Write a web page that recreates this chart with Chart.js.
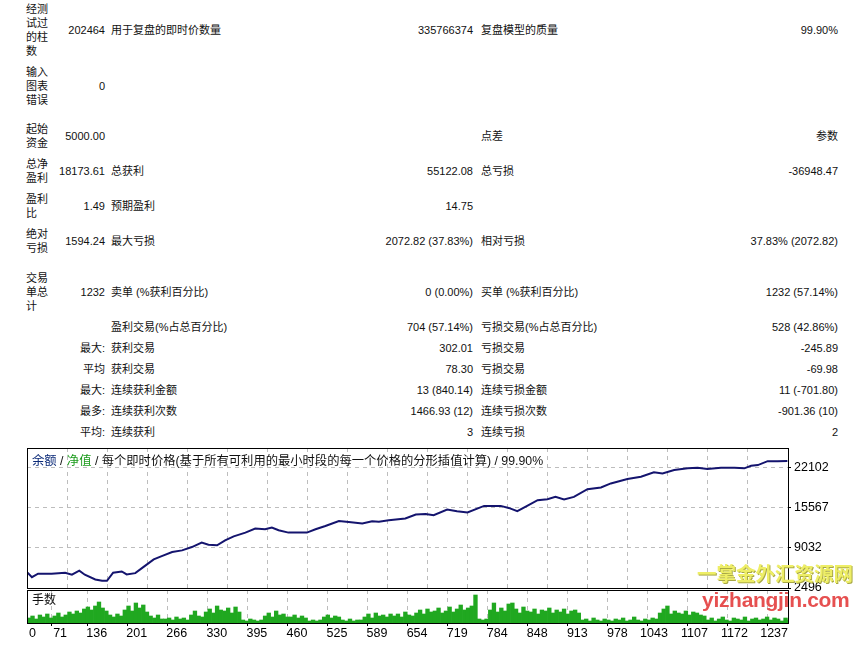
<!DOCTYPE html>
<html>
<head>
<meta charset="utf-8">
<script src="https://cdn.jsdelivr.net/npm/chart.js@4.4.1/dist/chart.umd.min.js"></script>
<style>
  body { margin: 0; background: #fff; width: 867px; height: 646px; overflow: hidden; position: relative;
         font-family: "Liberation Sans", "Noto Sans CJK SC", sans-serif; font-size: 11px; color: #111; }
  .t { position: absolute; white-space: nowrap; line-height: 14px; }
  .r { text-align: right; }
  .box { position: absolute; }
  #title { position: absolute; left: 32px; top: 451px; font-size: 12.3px; white-space: nowrap; z-index: 3; }
  .wm1 { position: absolute; left: 697px; top: 558px; font: bold 19.5px "Noto Sans CJK SC"; color: #eeee66;
         text-shadow: 1px 1px 0 #a8a845; z-index: 5; }
  .wm2 { position: absolute; left: 702px; top: 588px; font: bold 21px "Liberation Sans"; color: #e65050;
         z-index: 5; letter-spacing: -0.3px; }
</style>
</head>
<body>
<div id="report"></div>
<div class="box" style="left:0; top:430px; width:867px; height:180px;"><canvas id="chart_balance"></canvas></div>
<div class="box" style="left:0; top:580px; width:867px; height:66px;"><canvas id="chart_lots"></canvas></div>
<div id="title"><span style="color:#0b2a78">余额</span> / <span style="color:#1a9a1a">净值</span> / 每个即时价格(基于所有可利用的最小时段的每一个价格的分形插值计算) / 99.90%</div>
<div class="wm1">一掌金外汇资源网</div>
<div class="wm2">yizhangjin.com</div>
<script>
// ****************************************************************** //
// report table: [text y, wrapped label, value, label, value, label, value]
// ****************************************************************** //
const reportRows = [
    [30, "经测<br>试过<br>的柱<br>数", "202464", "用于复盘的即时价数量", "335766374", "复盘模型的质量", "99.90%"],
    [86, "输入<br>图表<br>错误", "0", "", "", "", ""],
    [136, "起始<br>资金", "5000.00", "", "", "点差", "参数"],
    [171, "总净<br>盈利", "18173.61", "总获利", "55122.08", "总亏损", "-36948.47"],
    [206, "盈利<br>比", "1.49", "预期盈利", "14.75", "", ""],
    [241, "绝对<br>亏损", "1594.24", "最大亏损", "2072.82 (37.83%)", "相对亏损", "37.83% (2072.82)"],
    [292, "交易<br>单总<br>计", "1232", "卖单 (%获利百分比)", "0 (0.00%)", "买单 (%获利百分比)", "1232 (57.14%)"],
    [327, "", "", "盈利交易(%占总百分比)", "704 (57.14%)", "亏损交易(%占总百分比)", "528 (42.86%)"],
    [348, "", "最大:", "获利交易", "302.01", "亏损交易", "-245.89"],
    [369, "", "平均", "获利交易", "78.30", "亏损交易", "-69.98"],
    [390, "", "最大:", "连续获利金额", "13 (840.14)", "连续亏损金额", "11 (-701.80)"],
    [411, "", "最多:", "连续获利次数", "1466.93 (12)", "连续亏损次数", "-901.36 (10)"],
    [432, "", "平均:", "连续获利", "3", "连续亏损", "2"],
];

let html = "";
reportRows.forEach(function (row) {
    const y = row[0];
    const nLines = row[1] ? row[1].split("<br>").length : 1;
    html += '<div class="t" style="left:26px;top:' + (y - nLines * 7) + 'px">' + row[1] + "</div>";
    html += '<div class="t r" style="right:' + (867 - 105) + 'px;top:' + (y - 7) + 'px">' + row[2] + "</div>";
    html += '<div class="t" style="left:111px;top:' + (y - 7) + 'px">' + row[3] + "</div>";
    html += '<div class="t r" style="right:' + (867 - 473) + 'px;top:' + (y - 7) + 'px">' + row[4] + "</div>";
    html += '<div class="t" style="left:481px;top:' + (y - 7) + 'px">' + row[5] + "</div>";
    html += '<div class="t r" style="right:' + (867 - 838) + 'px;top:' + (y - 7) + 'px">' + row[6] + "</div>";
});
document.getElementById("report").innerHTML = html;

// ****************************************************************** //
// chart data
// ****************************************************************** //
const tradeNo = [
    0, 1, 8, 18, 40, 62, 73, 85, 94, 111, 122, 130, 140, 154, 162, 176, 189, 206,
    219, 236, 252, 268, 284, 295, 309, 322, 336, 355, 371, 387, 398, 409, 425, 442,
    455, 469, 485, 507, 523, 545, 561, 572, 588, 615, 632, 648, 661, 683, 699, 716,
    743, 770, 783, 797, 813, 830, 846, 859, 873, 889, 911, 933, 949, 976, 998, 1019,
    1033, 1052, 1074, 1090, 1106, 1128, 1150, 1166, 1177, 1188, 1204, 1220, 1236,
];
const balance = [
    5000, 4980, 4260, 4816, 4816, 4980, 4653, 5307, 4653, 3885, 3672, 3672, 4980, 5192, 4702, 4914, 5895, 7153,
    7692, 8346, 8623, 9163, 9882, 9555, 9440, 10257, 10911, 11515, 12169, 12055, 12333, 11891, 11515, 11515,
    11515, 12055, 12594, 13411, 13247, 12986, 13362, 13300, 13525, 13803, 14457, 14555, 14342, 15274, 14996, 14784,
    15862, 15862, 15535, 14996, 15862, 16793, 16957, 17333, 16908, 17333, 18591, 18869, 19523, 20225, 20601, 21320,
    21156, 21695, 21973, 22070, 21859, 22070, 22070, 21973, 22390, 22510, 23150, 23150, 23173,
];
// lots per block of 6 trades
const lots = [
    0.5, 0.7, 0.4, 0.8, 0.6, 0.9, 0.5, 0.7, 1.0, 0.6, 0.8,
    1.1, 0.9, 1.2, 1.0,
    1.4, 1.6, 1.3, 1.7, 2.1, 1.5, 1.2,
    0.8, 0.6, 0.9, 0.7,
    1.3, 1.7, 1.2, 2.0, 1.5, 1.8, 1.1,
    0.7, 0.5, 0.8, 0.4,
    0.4, 0.5, 0.3, 0.6, 0.4, 0.5, 0.3,
    0.8, 1.2, 0.7, 0.6,
    1.1, 1.4, 1.0, 1.7, 1.3, 1.2, 1.5, 1.0, 1.6, 1.1,
    0.3, 0.2, 0.4, 0.3, 0.2, 0.3,
    0.7, 1.0, 0.6, 1.2, 0.8, 0.9, 0.6,
    0.6, 0.8, 0.5, 0.7, 0.5,
    0.2, 0.3, 0.2, 0.3,
    0.6, 0.8, 0.5, 0.7, 0.6,
    0.3, 0.2, 0.4, 0.2, 0.3, 0.3,
    0.6, 0.9, 0.5, 1.0, 0.7, 0.8, 0.6, 0.9,
    0.7, 0.9, 0.6, 1.1, 0.8, 0.7,
    1.0, 1.3, 0.9, 1.4, 1.1, 1.2, 1.5, 1.0,
    1.2, 1.6, 1.1, 1.4, 1.8, 1.3, 1.5,
    1.7, 2.8,
    0.4, 0.3, 0.4,
    1.3, 2.0, 1.1, 1.5, 1.2, 1.9, 2.0, 1.4, 1.0, 1.6, 1.2,
    1.1, 1.4, 0.9, 1.3, 1.2, 1.5, 1.0, 1.3, 1.1, 1.4, 0.9, 1.2, 1.3, 1.0,
    0.3, 0.4, 0.2, 0.5, 0.3, 0.2, 0.4, 0.3,
    0.2, 0.4, 0.3, 0.5, 0.2, 0.3, 0.6, 0.3, 0.2, 0.4, 0.3, 0.5, 0.4,
    1.0, 1.4, 1.7, 0.9, 1.2, 1.0,
    0.9, 1.2, 0.8, 1.1, 1.0, 0.8, 0.7,
    0.3, 0.5, 0.2, 0.4, 0.6, 0.3, 0.2, 0.5, 0.4, 0.3, 0.6, 0.2, 0.4, 0.5, 0.3, 0.4, 0.6, 0.3, 0.5, 0.4, 0.2, 0.5, 0.3,
];
const lotsStep = 6;
const tickLabels = ["0", "71", "136", "201", "266", "330", "395", "460", "525", "589", "654",
    "719", "784", "848", "913", "978", "1043", "1107", "1172", "1237"];
const balanceTicks = [2496, 9032, 15567, 22102];
const xMax = 1237;

const FONT = { family: "Liberation Sans", size: 12.5 };
const GRID = "#bdbdbd";
const DASH = [4, 4];

// black frame round each pane
const framePlugin = {
    id: "frame",
    afterDraw(chart) {
        const a = chart.chartArea;
        const c = chart.ctx;
        c.save();
        c.strokeStyle = "#000";
        c.lineWidth = 1;
        c.strokeRect(Math.round(a.left) + 0.5, Math.round(a.top) + 0.5,
            Math.round(a.right - a.left), Math.round(a.bottom - a.top));
        c.restore();
    },
};

// evenly spaced vertical grid positions
const gridX = tickLabels.map(function (l, i) { return i * xMax / (tickLabels.length - 1); });

// ****************************************************************** //
// balance pane
// ****************************************************************** //
const chart_balance = new Chart(document.getElementById("chart_balance"), {
    type: "line",
    data: {
        datasets: [{
            data: tradeNo.map(function (t, i) { return { x: t, y: balance[i] }; }),
            borderColor: "#14146e",
            borderWidth: 2,
            pointRadius: 0,
            tension: 0,
        }],
    },
    plugins: [framePlugin],
    options: {
        responsive: true,
        maintainAspectRatio: false,
        animation: false,
        layout: { padding: { left: 27, top: 18, bottom: 22, right: 0 } },
        plugins: { legend: { display: false }, tooltip: { enabled: false } },
        scales: {
            x: {
                type: "linear",
                min: 0,
                max: xMax,
                afterBuildTicks(s) { s.ticks = gridX.slice(1, -1).map(function (v) { return { value: v }; }); },
                afterFit(s) { s.height = 0; },
                ticks: { display: false },
                grid: { color: GRID, drawTicks: false, tickBorderDash: [] },
                border: { display: false, dash: DASH },
            },
            y: {
                position: "right",
                min: 2496,
                max: 25288,
                afterBuildTicks(s) { s.ticks = balanceTicks.map(function (v) { return { value: v }; }); },
                afterFit(s) { s.width = 79; },
                ticks: { color: "#000", font: FONT, padding: 3, callback(v) { return String(v); } },
                grid: { color: GRID, tickColor: "#000", tickLength: 3, tickBorderDash: [] },
                border: { display: false, dash: DASH },
            },
        },
    },
});

// ****************************************************************** //
// lots pane
// ****************************************************************** //
const chart_lots = new Chart(document.getElementById("chart_lots"), {
    type: "bar",
    data: {
        datasets: [{
            data: lots.map(function (v, i) { return { x: i * lotsStep + lotsStep / 2, y: v }; }),
            backgroundColor: "#20a820",
            barPercentage: 1,
            categoryPercentage: 1,
        }],
    },
    plugins: [framePlugin],
    options: {
        responsive: true,
        maintainAspectRatio: false,
        animation: false,
        layout: { padding: { left: 27, top: 10, bottom: 0, right: 79 } },
        plugins: { legend: { display: false }, tooltip: { enabled: false } },
        scales: {
            x: {
                type: "linear",
                min: 0,
                max: xMax,
                offset: false,
                afterBuildTicks(s) {
                    // first label sits just right of the frame
                    s.ticks = gridX.map(function (v, i) { return { value: i === 0 ? 14.6 : v }; });
                },
                afterFit(s) { s.height = 23; },
                ticks: {
                    color: "#000",
                    font: FONT,
                    padding: 0,
                    align: "end",
                    maxRotation: 0,
                    autoSkip: false,
                    callback(v, i) { return tickLabels[i]; },
                },
                grid: {
                    color(ctx) { return ctx.index === 0 ? "rgba(0,0,0,0)" : GRID; },
                    tickColor(ctx) { return ctx.index === 0 ? "rgba(0,0,0,0)" : "#000"; },
                    tickLength: 3,
                    tickBorderDash: [],
                },
                border: { display: false, dash: DASH },
            },
            y: {
                display: false,
                min: 0,
                max: 3.3,
            },
        },
    },
});
</script>
<div class="t" style="left:32px; top:593px; font-size:12px; z-index:3;">手数</div>
</body>
</html>
